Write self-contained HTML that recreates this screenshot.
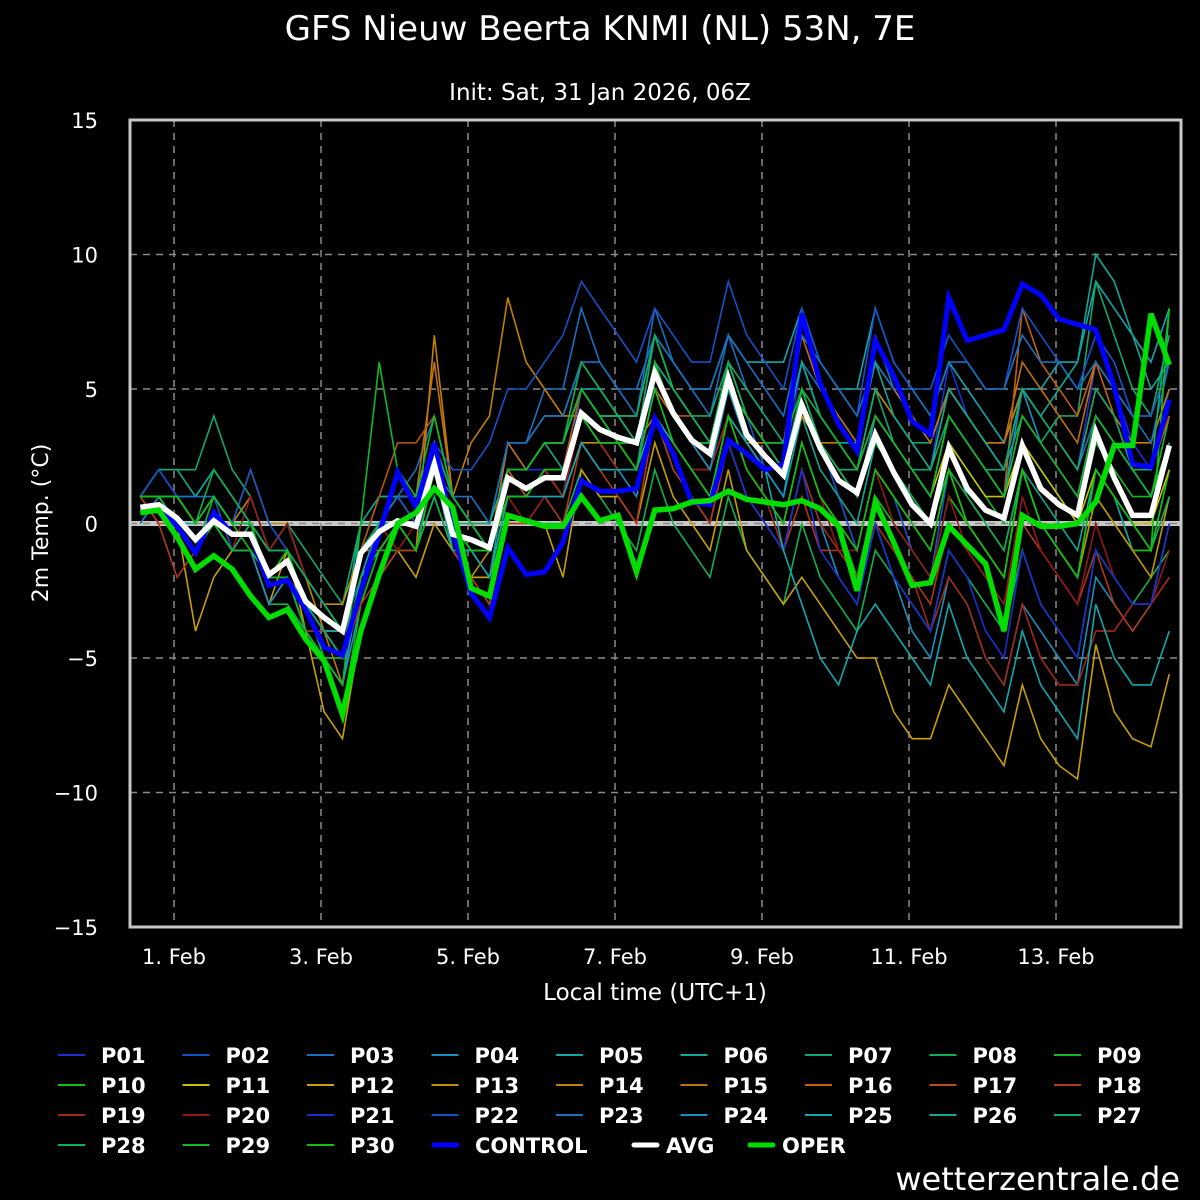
<!DOCTYPE html>
<html><head><meta charset="utf-8">
<style>
html,body{margin:0;padding:0;background:#000;}
svg{display:block;font-family:"DejaVu Sans","Liberation Sans",sans-serif;}
</style></head>
<body>
<svg id="chart" width="1200" height="1200" viewBox="0 0 1200 1200" xmlns="http://www.w3.org/2000/svg">
<rect x="0" y="0" width="1200" height="1200" fill="#000"/>
<text x="600" y="40" fill="#fff" font-size="34" text-anchor="middle">GFS Nieuw Beerta KNMI (NL) 53N, 7E</text>
<text x="600" y="100" fill="#fff" font-size="23" text-anchor="middle">Init: Sat, 31 Jan 2026, 06Z</text>
<g id="grid"></g>
<g id="yticks"></g>
<g id="xticks"></g>
<text x="48" y="523" fill="#fff" font-size="22" text-anchor="middle" transform="rotate(-90 48 523)">2m Temp. (°C)</text>
<text x="655" y="1000" fill="#fff" font-size="23" text-anchor="middle">Local time (UTC+1)</text>
<g id="series"></g>
<rect x="130" y="120" width="1051" height="807" fill="none" stroke="#c8c8c8" stroke-width="3"/>
<g id="legend"></g>
<text x="1180" y="1190" fill="#fff" font-size="32" text-anchor="end">wetterzentrale.de</text>
</svg>
<script>
const yTicks = [15,10,5,0,-5,-10,-15];
const yTickLabels = ["15","10","5","0","\u22125","\u221210","\u221215"];
const xTickDays = [0,2,4,6,8,10,12];
const xTickLabels = ["1. Feb","3. Feb","5. Feb","7. Feb","9. Feb","11. Feb","13. Feb"];
const startDay = -0.458;
const stepDay = 0.25;
const avgValues = [0.6,0.7,0.2,-0.6,0.1,-0.4,-0.4,-1.9,-1.4,-2.9,-3.5,-4.0,-1.1,-0.3,0.1,-0.1,2.2,-0.4,-0.6,-0.9,1.7,1.3,1.7,1.7,4.1,3.5,3.2,3.0,5.6,4.1,3.1,2.6,5.4,3.3,2.5,1.8,4.4,2.8,1.6,1.15,3.3,1.9,0.7,0.0,2.8,1.3,0.5,0.2,2.9,1.3,0.7,0.3,3.4,1.7,0.3,0.3,2.9];
const operValues = [0.4,0.5,-0.5,-1.7,-1.2,-1.7,-2.7,-3.5,-3.2,-4.3,-5.1,-7.1,-4.0,-1.9,0.0,0.4,1.3,0.6,-2.4,-2.7,0.3,0.1,-0.1,-0.1,1.0,0.1,0.3,-1.8,0.5,0.55,0.8,0.85,1.2,0.9,0.8,0.7,0.85,0.55,-0.1,-2.5,0.8,-0.7,-2.3,-2.2,-0.1,-0.8,-1.5,-4.0,0.3,-0.1,-0.1,0.0,0.8,2.9,2.9,7.8,5.9];
const controlValues = [0.5,0.6,-0.1,-1.1,0.4,-0.4,-0.4,-2.3,-2.1,-3.2,-4.6,-4.9,-2.5,-0.4,1.9,0.6,3.0,-0.3,-2.6,-3.5,-0.9,-1.9,-1.8,-0.7,1.6,1.2,1.2,1.3,3.9,2.6,0.8,0.7,3.1,2.6,2.0,2.2,7.8,5.2,3.7,2.7,6.8,5.5,3.8,3.3,8.4,6.8,7.0,7.2,8.9,8.5,7.6,7.4,7.2,5.1,2.2,2.1,4.6];
const memberNames = ["P01","P02","P03","P04","P05","P06","P07","P08","P09","P10","P11","P12","P13","P14","P15","P16","P17","P18","P19","P20","P21","P22","P23","P24","P25","P26","P27","P28","P29","P30"];
const memberColors = ["#1a2fd0","#1552c8","#1870c0","#1890c0","#10a8b0","#10a890","#10a870","#10b050","#10b828","#10c010","#c8c000","#c8a000","#c09000","#c08000","#c07010","#c06010","#b85010","#b03818","#a02818","#901818","#1a2fd0","#1552c8","#1870c0","#1890c0","#10a8b0","#10a890","#10a870","#10b050","#10b828","#10c010"];
const P01=[1,1,0,-1,1,0,1,-1,0,-2,-3,-4,0,1,1,0,3,1,0,-1,3,2,3,3,6,5,4,4,7,5,4,3,6,4,3,2,6,4,3,2,5,4,3,2,6,4,3,2,5,4,3,2,6,5,3,2,5];
const P02=[1,2,1,0,1,-1,-1,-2,-2,-3,-5,-5,-2,-1,0,-1,3,-1,-2,-2,1,1,2,1,5,4,3,3,7,5,4,3,6,4,2,1,5,3,1,-1,2,1,-1,-2,2,0,-1,-2,2,0,-1,-2,2,1,-1,-2,1];
const P03=[0,1,1,1,2,1,0,-1,0,-2,-3,-4,-2,0,1,2,4,1,0,-1,3,3,5,5,8,6,5,4,8,6,5,4,7,5,4,3,6,5,4,3,7,5,4,3,5,4,3,2,5,4,3,2,4,3,2,1,4];
const P04=[1,0,0,-1,0,-1,-1,-3,-2,-4,-5,-6,-3,-1,0,-1,1,-1,-2,-2,0,0,1,1,3,2,2,1,4,2,1,0,3,1,0,-1,2,0,-2,-3,0,-2,-4,-5,-2,-3,-5,-6,-3,-4,-5,-6,-2,-3,-4,-3,0];
const P05=[1,1,0,0,1,0,0,-2,-1,-3,-4,-5,-1,1,1,0,2,0,-1,-1,2,2,3,3,5,5,4,4,7,6,5,5,7,6,6,6,8,6,5,5,8,6,5,4,6,5,4,3,5,5,6,6,9,8,7,6,8];
const P06=[1,2,2,1,2,1,0,-1,-1,-2,-3,-4,0,0,1,1,3,0,-1,-2,2,2,3,2,5,4,3,3,6,4,3,2,5,3,2,1,4,2,1,0,3,2,1,0,3,1,0,-1,2,1,0,-1,2,1,-1,-1,2];
const P07=[1,2,2,2,4,2,1,-1,0,-1,-2,-3,0,1,1,1,3,1,0,0,3,3,4,4,6,5,4,3,7,5,4,4,6,5,4,3,6,4,3,2,5,4,3,3,5,4,3,2,4,3,4,4,9,7,5,4,7];
const P08=[0,1,0,-1,0,-1,-1,-3,-3,-4,-5,-6,-2,-1,-1,-1,1,-1,-2,-3,0,0,0,0,2,1,0,-1,2,0,-1,-2,1,-1,-2,-3,0,-2,-3,-4,-1,-2,-3,-4,-1,-2,-3,-4,-1,-3,-4,-5,-1,-2,-3,-2,-1];
const P09=[1,1,0,-1,1,0,0,-2,-2,-3,-4,-4,-1,0,1,0,3,0,-1,-1,2,2,3,3,5,4,3,3,6,4,3,3,5,3,3,2,4,3,2,1,3,2,1,0,3,2,1,0,3,2,1,0,3,2,1,1,4];
const P10=[1,1,1,0,1,0,-1,-2,-2,-4,-5,-7,-3,-1,0,0,2,0,-1,-1,1,1,2,2,4,3,3,2,5,3,2,1,4,2,1,0,3,1,0,-2,1,0,-1,-2,1,0,-1,-2,2,0,-1,-2,1,0,-1,-1,2];
const P11=[1,1,0,-1,0,-1,0,-2,-1,-3,-4,-5,-1,0,1,0,2,0,0,-1,2,1,2,2,4,3,3,3,5,4,3,3,5,4,3,2,4,3,2,1,4,3,2,1,3,2,1,1,3,2,1,0,2,1,0,0,2];
const P12=[1,1,0,-4,-2,-1,-1,-3,-1,-4,-7,-8,-4,-2,-1,-2,0,-1,-2,-2,0,0,0,-2,2,1,1,0,3,1,0,-1,2,-1,-2,-3,-2,-3,-4,-5,-5,-7,-8,-8,-6,-7,-8,-9,-6,-8,-9,-9.5,-4.5,-7,-8,-8.3,-5.6];
const P13=[0,1,1,0,1,0,2,0,0,-2,-3,-3,-1,0,0,-1,2,-1,-2,-1,1,1,2,1,3,3,2,2,5,3,2,2,4,2,1,0,3,1,0,-1,2,1,0,-1,2,0,-1,-2,2,0,-1,-2,1,0,-1,-2,1];
const P14=[1,1,1,0,1,0,1,-1,0,-2,-4,-5,-1,-1,0,-1,7,1,3,4,8.4,6,5,4,4,3,3,3,4,3,2,2,4,3,3,2,4,3,3,2,5,4,3,2,5,4,3,3,5,4,3,2,5,4,3,3,5];
const P15=[1,1,1,0,1,0,0,-2,-1,-3,-4,-6,-2,0,1,1,6,1,0,-1,3,2,3,3,5,4,4,3,6,5,4,3,6,4,3,3,7,5,4,3,6,5,4,3,5,4,3,3,6,5,4,3,6,5,4,4,6];
const P16=[1,0,0,-1,0,-1,0,-2,-1,-3,-4,-5,-2,-1,0,0,3,0,-1,-1,2,1,2,2,4,3,3,3,5,4,3,2,5,4,3,2,5,3,2,1,4,3,2,1,4,3,2,1,8,6,5,4,6,4,2,2,4];
const P17=[1,1,0,-1,0,-1,-1,-2,-2,-3,-4,-4,-1,1,3,3,4,1,0,0,2,1,2,2,5,4,4,3,6,4,4,3,5,4,3,2,5,3,2,2,4,3,2,1,4,3,2,1,4,3,2,1,4,3,2,2,4];
const P18=[1,0,-2,-1,0,-1,-1,-3,-2,-4,-4,-5,-3,-2,-1,-1,2,-1,-2,-3,0,0,1,0,3,2,1,0,4,2,1,0,3,1,0,-1,1,-1,-1,-2,0,-1,-2,-3,0,-1,-2,-3,0,-1,-2,-3,-1,-3,-4,-3,-2];
const P19=[1,1,0,-1,0,-1,0,-2,-1,-3,-4,-5,-1,0,0,-1,2,0,-1,-2,1,1,2,1,4,3,2,2,5,3,2,1,4,2,1,-1,2,0,-1,-2,0,-1,-2,-4,-2,-3,-5,-6,-3,-5,-6,-6,-4,-4,-3,-3,-2];
const P20=[1,1,0,-1,0,-1,1,-1,0,-2,-3,-4,-1,0,-1,0,2,0,-1,-2,1,0,1,1,4,3,3,2,5,3,2,2,4,2,1,0,3,1,-1,-1,2,0,-1,-2,1,-1,-2,-3,1,-1,-2,-3,0,-2,-3,-3,-1];
const P21=[1,1,1,0,1,0,0,-2,-2,-3,-4,-5,-2,0,1,0,3,1,0,-1,2,2,2,2,4,3,3,3,5,3,2,1,3,1,0,-1,2,-1,-2,-3,0,-2,-3,-4,-1,-2,-4,-5,-1,-3,-4,-5,-1,-2,-3,-3,0];
const P22=[1,2,1,0,1,0,2,0,-1,-2,-3,-4,-1,0,1,0,3,2,2,3,5,5,6,7,9,8,7,6,8,7,6,6,9,7,6,5,8,6,5,4,8,6,5,5,7,6,5,5,8,7,6,5,7,6,4,4,6];
const P23=[0,1,1,1,1,0,0,-1,-1,-2,-3,-4,-1,0,1,1,2,1,1,0,3,3,4,4,6,6,5,5,7,6,5,5,7,6,5,4,7,6,5,4,6,5,5,4,6,6,5,5,7,6,6,5,6,5,4,3,6];
const P24=[1,1,0,-1,0,-1,-1,-3,-2,-4,-5,-6,-2,0,0,0,3,0,-1,-2,1,1,2,2,4,3,3,2,6,4,3,2,5,3,2,1,5,3,2,1,4,3,2,1,4,3,2,1,5,3,2,1,4,3,2,1,3];
const P25=[1,1,0,-1,0,-1,-1,-2,-2,-3,-4,-4,-1,0,0,-1,2,-1,-1,-2,1,1,1,1,3,2,2,2,4,3,2,1,4,3,2,-1,-3,-5,-6,-4,-3,-4,-5,-6,-3,-5,-6,-7,-4,-6,-7,-8,-3,-5,-6,-6,-4];
const P26=[1,1,1,0,1,0,0,-2,-1,-3,-4,-5,-1,0,0,0,2,0,0,-1,2,2,3,3,5,4,4,3,6,5,4,3,6,4,3,3,6,4,3,3,6,4,3,2,5,4,3,2,5,4,5,6,10,9,7,5,6];
const P27=[1,1,0,-1,0,-1,0,-2,-1,-3,-4,-5,-1,0,0,0,3,1,0,0,2,2,3,3,5,4,4,3,6,4,3,3,5,4,3,2,5,3,2,2,5,3,2,2,4,3,2,2,5,4,3,2,5,4,2,2,8];
const P28=[1,1,1,0,2,1,0,-1,-1,-2,-3,-4,-1,0,0,-1,2,0,-1,-1,2,2,3,3,6,5,4,4,7,5,4,3,6,4,3,2,5,3,2,1,3,2,1,0,2,1,0,-1,2,0,-1,-2,2,1,0,-1,1];
const P29=[1,1,0,-1,0,-1,-1,-2,-2,-4,-5,-6,0,6,2,1,4,1,0,-1,2,2,3,3,5,4,3,3,6,4,3,3,5,4,3,3,5,4,3,2,4,3,2,1,4,3,2,1,4,3,2,1,4,3,2,1,3];
const P30=[1,1,1,0,1,0,0,-2,-1,-3,-5,-5,-2,-1,0,-1,2,0,-1,-1,1,1,2,2,4,3,3,2,5,3,2,1,4,2,1,0,3,1,0,-1,2,1,0,-1,2,0,-1,-2,2,0,-1,-2,2,1,0,-1,8];
const members=[P01,P02,P03,P04,P05,P06,P07,P08,P09,P10,P11,P12,P13,P14,P15,P16,P17,P18,P19,P20,P21,P22,P23,P24,P25,P26,P27,P28,P29,P30];

const NS="http://www.w3.org/2000/svg";
const plotL=130, plotR=1181, plotT=120, plotB=927;
function yScale(v){return plotT+(15-v)*(plotB-plotT)/30;}
function xScale(d){return 174+d*73.5;}
function mk(tag,attrs,parent){const e=document.createElementNS(NS,tag);for(const k in attrs)e.setAttribute(k,attrs[k]);parent.appendChild(e);return e;}
const grid=document.getElementById('grid'), yt=document.getElementById('yticks'), xt=document.getElementById('xticks');
yTicks.forEach((v,i)=>{
  const y=yScale(v);
  if(v!==0 && v!==15 && v!==-15){const l=mk('line',{x1:plotL,x2:plotR,y1:y,y2:y,stroke:'#8a8a8a','stroke-width':1.5,'stroke-dasharray':'7,6'},grid);
  
  }
  const t=mk('text',{x:98,y:y+8,fill:'#fff','font-size':21,'text-anchor':'end'},yt);
  t.textContent=yTickLabels[i];
  
  
});
const zl=mk('line',{x1:plotL,x2:plotR,y1:yScale(0),y2:yScale(0),stroke:'#c8c8c8','stroke-width':5},grid);


const zd=mk('line',{x1:plotL,x2:plotR,y1:yScale(0),y2:yScale(0),stroke:'#8a8a8a','stroke-width':1.5,'stroke-dasharray':'7,6'},grid);


xTickDays.forEach((d,i)=>{
  const x=xScale(d);
  const l=mk('line',{x1:x,x2:x,y1:plotT,y2:plotB,stroke:'#8a8a8a','stroke-width':1.5,'stroke-dasharray':'7,6'},grid);
  
  
  const t=mk('text',{x:x,y:964,fill:'#fff','font-size':21,'text-anchor':'middle'},xt);
  t.textContent=xTickLabels[i];
  
  
});
const series=document.getElementById('series');
function pts(vals){return vals.map((v,i)=>xScale(startDay+i*stepDay).toFixed(1)+','+yScale(v).toFixed(1)).join(' ');}
members.forEach((m,k)=>{
  const p=mk('polyline',{points:pts(m),fill:'none',stroke:memberColors[k],'stroke-width':1.6,'stroke-linejoin':'miter'},series);
  
  
});
const c=mk('polyline',{points:pts(controlValues),fill:'none',stroke:'#0000ff','stroke-width':5,'stroke-linejoin':'miter'},series);


const a=mk('polyline',{points:pts(avgValues),fill:'none',stroke:'#ffffff','stroke-width':5.5,'stroke-linejoin':'miter'},series);


const o=mk('polyline',{points:pts(operValues),fill:'none',stroke:'#00dd00','stroke-width':5.5,'stroke-linejoin':'miter'},series);



const legend=document.getElementById('legend');
const legNames=memberNames.concat(["CONTROL","AVG","OPER"]);
const legColors=memberColors.concat(["#0000ff","#ffffff","#00dd00"]);
const specialX=[432,632,748];
legNames.forEach((n,i)=>{
  const col=i%9,row=Math.floor(i/9);
  let x=58+col*124.5;
  const y=1055+row*30;
  const thick=i>=30;
  if(thick) x=specialX[i-30];
  const g=mk('g',{},legend);
  
  
  mk('line',{x1:thick?x+2:x,x2:thick?x+25:x+27,y1:y,y2:y,stroke:legColors[i],'stroke-width':thick?5:2,'stroke-linecap':thick?'round':'butt'},g);
  const t=mk('text',{x:x+(thick?(i===30?43:34):43),y:y+8,fill:'#fff','font-size':21,'font-weight':'bold'},g);
  t.textContent=n;
});
</script>
</body></html>
